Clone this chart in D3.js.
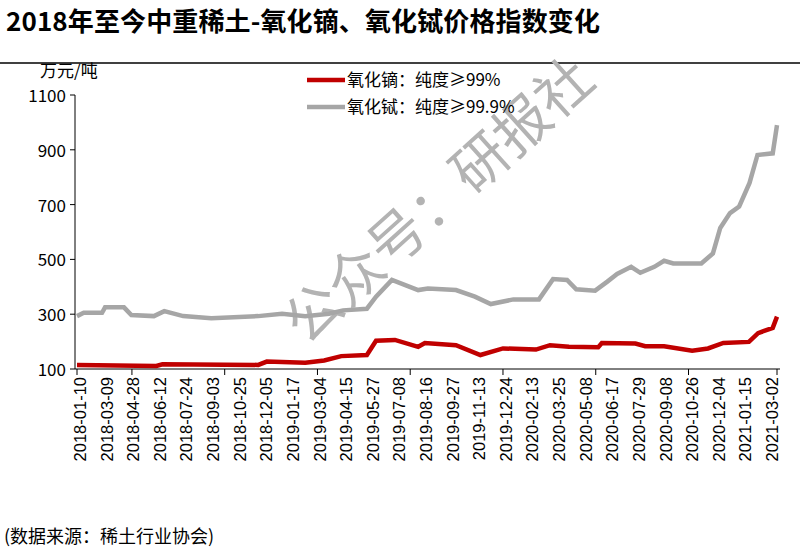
<!DOCTYPE html>
<html><head><meta charset="utf-8">
<script src="https://cdn.jsdelivr.net/npm/d3@7"></script>
<style>body{margin:0;background:#fff}svg{font-family:"Noto Sans CJK SC","Noto Sans",sans-serif}</style>
</head><body><svg id="c" width="800" height="556"></svg>
<script>
// day offsets from 2018-01-10, values in 万元/吨
const ceriumData = [[0,293],[11,305],[41,305],[46,325],[77,325],[89,297],[126,293],[143,311],[174,293],[220,285],[297,293],[336,302],[374,293],[413,302],[436,314],[475,320],[490,364],[516,425],[559,388],[575,394],[621,388],[652,364],[678,337],[715,354],[757,354],[780,428],[803,425],[818,391],[849,386],[869,419],[885,447],[908,473],[923,451],[946,473],[962,495],[977,485],[1023,485],[1042,522],[1054,615],[1070,669],[1085,693],[1102,779],[1115,881],[1140,887],[1147,990]];
const europiumData = [[0,115],[130,111],[140,117],[297,115],[311,127],[374,123],[405,131],[433,147],[475,151],[490,203],[521,206],[559,181],[570,195],[621,187],[661,151],[698,175],[752,171],[775,187],[806,181],[854,179],[860,195],[915,193],[931,183],[962,183],[1008,167],[1034,175],[1059,195],[1101,199],[1116,231],[1140,250],[1147,291]];
const dateLabels = ["2018-01-10","2018-03-09","2018-04-28","2018-06-12","2018-07-24","2018-09-03","2018-10-25","2018-12-05","2019-01-17","2019-03-04","2019-04-15","2019-05-27","2019-07-08","2019-08-16","2019-09-27","2019-11-13","2019-12-24","2020-02-13","2020-03-25","2020-05-08","2020-06-17","2020-07-29","2020-09-08","2020-10-26","2020-12-04","2021-01-15","2021-03-02"];
const yTicks = [100,300,500,700,900,1100];
const xTickDays = [0,90,242,394,546,698,850,1002,1147];

const svg = d3.select("#c");
svg.append("text").attr("x",6).attr("y",31).attr("font-size",26).attr("font-weight","bold").attr("textLength",594).text("2018年至今中重稀土-氧化镝、氧化铽价格指数变化");
svg.append("line").attr("x1",0).attr("x2",800).attr("y1",63).attr("y2",63).attr("stroke","#000").attr("stroke-width",1.5);

const x = d3.scaleLinear().domain([0,1147]).range([77,777]);
const y = d3.scaleLinear().domain([100,1100]).range([369,95]);

// y axis
svg.append("line").attr("x1",75).attr("x2",75).attr("y1",95).attr("y2",369).attr("stroke","#000");
yTicks.forEach(v => {
  svg.append("line").attr("x1",70).attr("x2",75).attr("y1",y(v)).attr("y2",y(v)).attr("stroke","#000");
  svg.append("text").attr("x",66).attr("y",y(v)+7).attr("text-anchor","end").attr("font-size",17).text(v);
});
svg.append("text").attr("x",40).attr("y",77).attr("font-size",17).text("万元/吨");

// x axis
svg.append("line").attr("x1",75).attr("x2",780).attr("y1",369).attr("y2",369).attr("stroke","#000");
xTickDays.forEach(d => svg.append("line").attr("x1",x(d)).attr("x2",x(d)).attr("y1",369).attr("y2",375).attr("stroke","#000"));
const lx = d3.scalePoint().domain(dateLabels).range([80,772]);
dateLabels.forEach(l => svg.append("text")
  .attr("transform",`translate(${lx(l)+6},377) rotate(-90)`)
  .attr("text-anchor","end").attr("font-size",16.5).attr("font-family","Liberation Sans, sans-serif").text(l));

// watermark
svg.append("text").attr("transform","translate(452,215) rotate(-42)").attr("text-anchor","middle")
  .attr("font-size",56).attr("fill","#b3b3b3").text("公众号：研报社");

const line = d3.line().x(d => x(d[0])).y(d => y(d[1]));
svg.append("path").datum(ceriumData).attr("d",line).attr("fill","none").attr("stroke","#a6a6a6").attr("stroke-width",4.5);
svg.append("path").datum(europiumData).attr("d",line).attr("fill","none").attr("stroke","#c00000").attr("stroke-width",4.5);

// legend
[["氧化镝：纯度≥99%","#c00000",80],["氧化铽：纯度≥99.9%","#a6a6a6",107]].forEach(([t,c,yy]) => {
  svg.append("line").attr("x1",307).attr("x2",345).attr("y1",yy).attr("y2",yy).attr("stroke",c).attr("stroke-width",4.5);
  svg.append("text").attr("x",347).attr("y",yy+6).attr("font-size",17).text(t);
});

svg.append("text").attr("x",4).attr("y",543).attr("font-size",18).text("(数据来源：稀土行业协会)");
</script></body></html>
